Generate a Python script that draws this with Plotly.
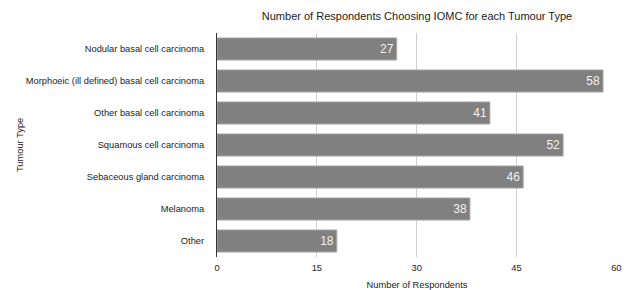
import plotly.graph_objects as go

categories = [
    "Nodular basal cell carcinoma",
    "Morphoeic (ill defined) basal cell carcinoma",
    "Other basal cell carcinoma",
    "Squamous cell carcinoma",
    "Sebaceous gland carcinoma",
    "Melanoma",
    "Other",
]
respondents = [27, 58, 41, 52, 46, 38, 18]
x_ticks = [0, 15, 30, 45, 60]

FONT = "Liberation Sans, Arial, Helvetica, sans-serif"

# page body has an 8px default margin; size figure so it fits the 634x290 window
W, H = 626, 282

fig = go.Figure(
    go.Bar(
        x=respondents,
        y=categories,
        orientation="h",
        marker=dict(color="#808080", line=dict(color="#a8a8a8", width=1)),
        text=[str(v) for v in respondents],
        textposition="inside",
        insidetextanchor="end",
        textfont=dict(color="#f2f2f2", size=12, family=FONT),
        cliponaxis=False,
    )
)

fig.update_layout(
    width=W,
    height=H,
    margin=dict(l=209, r=17, t=25, b=33, autoexpand=False),
    paper_bgcolor="white",
    plot_bgcolor="white",
    bargap=0.31,
    showlegend=False,
    font=dict(family=FONT, size=9.3, color="#222"),
    title=dict(
        text="Number of Respondents Choosing IOMC for each Tumour Type",
        x=(417 - 8) / W,
        xanchor="center",
        y=1 - (16 - 8) / H,
        yanchor="middle",
        font=dict(size=11, color="#222", family=FONT),
    ),
    xaxis=dict(
        range=[0, 60.1],
        tickvals=x_ticks,
        ticktext=[str(t) for t in x_ticks],
        showgrid=True,
        gridcolor="#cfcfcf",
        gridwidth=1,
        zeroline=False,
        showline=False,
        ticks="",
        automargin=False,
        ticklabelstandoff=4,
        tickfont=dict(size=9.3, color="#222"),
        title=dict(text="Number of Respondents", font=dict(size=9.3, color="#222"), standoff=9),
    ),
    yaxis=dict(
        categoryorder="array",
        categoryarray=categories,
        autorange="reversed",
        showgrid=False,
        showline=True,
        linecolor="#333",
        linewidth=1,
        ticks="",
        automargin=False,
        ticklabelstandoff=10,
        tickfont=dict(size=9.3, color="#222"),
    ),
    annotations=[
        dict(
            text="Tumour Type",
            xref="paper",
            yref="paper",
            x=-197 / 400,
            y=0.5,
            textangle=-90,
            showarrow=False,
            xanchor="center",
            yanchor="middle",
            font=dict(size=9.3, color="#222", family=FONT),
        )
    ],
)

fig.write_html("out.html")
